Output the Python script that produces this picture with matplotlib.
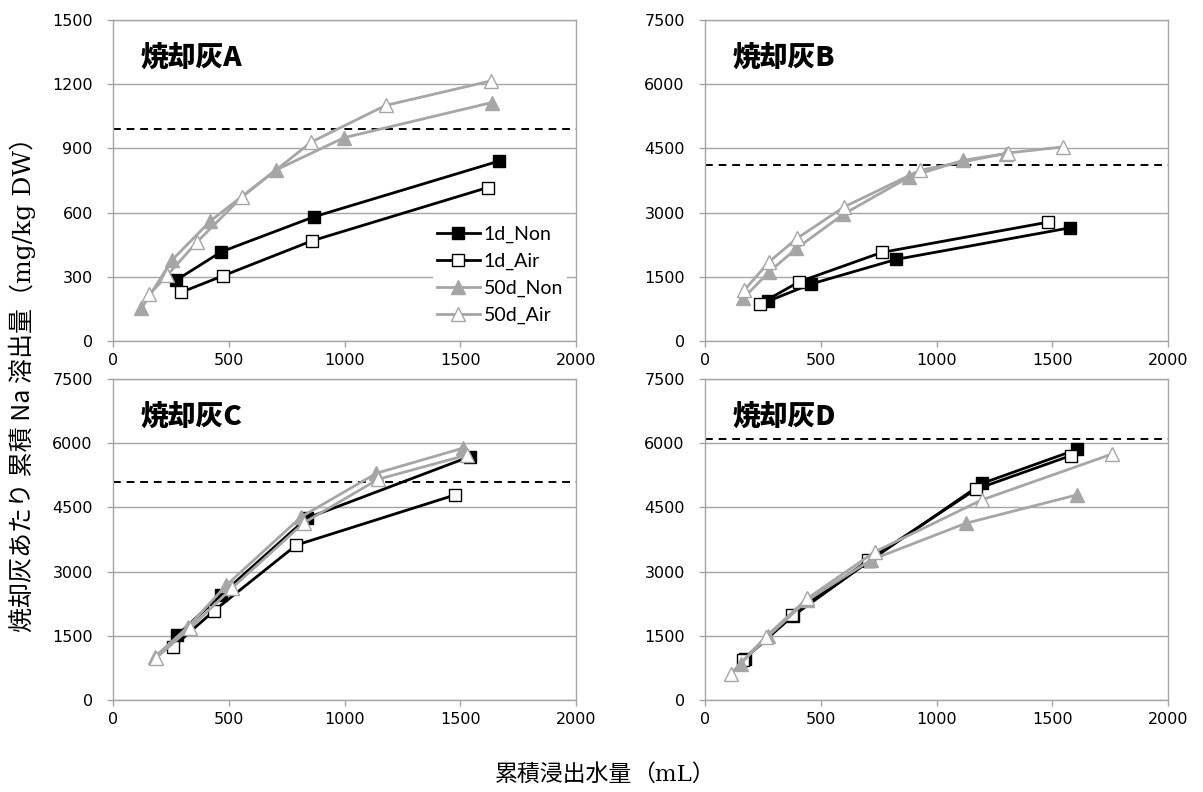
import matplotlib
matplotlib.use('Agg')
import matplotlib.pyplot as plt

plt.rcParams['font.family'] = ['Noto Sans CJK JP', 'DejaVu Sans']

# データ (累積浸出水量 mL, 累積 Na 溶出量 mg/kg DW)
series_names = ['1d_Non', '1d_Air', '50d_Non', '50d_Air']
panel_titles = ['焼却灰A', '焼却灰B', '焼却灰C', '焼却灰D']

a_x = [[274, 468, 867, 1668],
       [293, 476, 859, 1618],
       [123, 255, 420, 702, 998, 1635],
       [157, 235, 363, 557, 857, 1178, 1631]]
a_y = [[285, 417, 580, 841],
       [227, 305, 468, 717],
       [152, 378, 560, 798, 950, 1114],
       [218, 308, 463, 673, 930, 1101, 1215]]

b_x = [[274, 457, 825, 1576],
       [238, 407, 763, 1481],
       [165, 277, 395, 598, 883, 1115, 1302],
       [170, 277, 397, 601, 930, 1310, 1545]]
b_y = [[933, 1330, 1906, 2644],
       [870, 1384, 2069, 2776],
       [996, 1617, 2162, 2963, 3834, 4223, 4379],
       [1190, 1851, 2396, 3133, 3990, 4394, 4534]]

c_x = [[278, 465, 836, 1541],
       [259, 436, 792, 1477],
       [180, 324, 490, 814, 1138, 1510],
       [187, 331, 512, 825, 1145, 1530]]
c_y = [[1514, 2450, 4245, 5686],
       [1240, 2083, 3620, 4790],
       [1006, 1708, 2684, 4282, 5298, 5883],
       [983, 1671, 2607, 4142, 5157, 5726]]

d_x = [[172, 378, 710, 1198, 1609],
       [165, 374, 706, 1170, 1580],
       [154, 273, 442, 716, 1126, 1605],
       [112, 262, 442, 734, 1195, 1756]]
d_y = [[969, 1959, 3245, 5063, 5859],
       [945, 1982, 3269, 4923, 5710],
       [852, 1490, 2333, 3269, 4128, 4790],
       [618, 1474, 2373, 3463, 4673, 5742]]

limit_lines = [990, 4110, 5100, 6100]   # 破線
y_max = [1500, 7500, 7500, 7500]
y_step = [300, 1500, 1500, 1500]

all_x = [a_x, b_x, c_x, d_x]
all_y = [a_y, b_y, c_y, d_y]

GRAY = '#A6A6A6'
styles = [
    dict(color='black', marker='s', mfc='black', mec='black', ms=9),
    dict(color='black', marker='s', mfc='white', mec='black', ms=9, mew=1),
    dict(color=GRAY, marker='^', mfc=GRAY, mec=GRAY, ms=10),
    dict(color=GRAY, marker='^', mfc='white', mec=GRAY, ms=10, mew=1),
]

fig = plt.figure(figsize=(12.03, 7.92), dpi=100)
W, H = 1203, 792
# 各パネルの位置 (ピクセル: left, top)
boxes = [(113, 20), (705, 20), (113, 379), (705, 379)]
pw, ph = 463, 321

for i in range(4):
    left, top = boxes[i]
    ax = fig.add_axes([left / W, 1 - (top + ph) / H, pw / W, ph / H])
    for j in range(4):
        ax.plot(all_x[i][j], all_y[i][j], lw=2, label=series_names[j],
                zorder=3 + j, **styles[j])
    ax.axhline(limit_lines[i], color='black', ls=(0, (4, 3)), lw=1.4, zorder=2)
    ax.set_xlim(0, 2000)
    ax.set_ylim(0, y_max[i])
    ax.set_xticks(range(0, 2001, 500))
    ax.set_yticks(range(0, y_max[i] + 1, y_step[i]))
    ax.yaxis.grid(True, color=GRAY, lw=1)
    ax.set_axisbelow(True)
    for s in ax.spines.values():
        s.set_color(GRAY)
        s.set_linewidth(1)
    ax.tick_params(direction='out', length=4.5, color=GRAY, width=1)
    ax.tick_params(axis='y', pad=10)
    ax.tick_params(axis='x', pad=4)
    for lab in ax.get_xticklabels() + ax.get_yticklabels():
        lab.set_fontfamily('DejaVu Sans')
        lab.set_fontsize(11.5)
    ax.text(0.06, 0.882, panel_titles[i], transform=ax.transAxes,
            fontsize=20, fontweight='black', va='center', ha='left')
    if i == 0:
        ax.legend(loc='upper left', bbox_to_anchor=(0.67, 0.40),
                  frameon=True, fancybox=False, edgecolor='none',
                  framealpha=1, prop={'family': 'Lato', 'size': 14},
                  handlelength=2.2, handletextpad=0.2,
                  labelspacing=0.5, borderpad=0.2)

# 軸ラベル (括弧内は明朝風)
serif = ['DejaVu Serif', 'Noto Sans CJK JP']
r = fig.canvas.get_renderer()

y1 = fig.text(0.019, 1 - 632 / H, '焼却灰あたり 累積 Na 溶出量', rotation=90,
              fontsize=18, ha='center', va='bottom')
bb = y1.get_window_extent(r)
fig.text(0.019, bb.y1 / H, '（mg/kg DW）', rotation=90, family=serif,
         fontsize=18, ha='center', va='bottom')

x1 = fig.text(0, 0.022, '累積浸出水量', fontsize=16.5, ha='left', va='center')
x2 = fig.text(0, 0.022, '（mL）', family=serif, fontsize=16.5, ha='left',
              va='center')
w1 = x1.get_window_extent(r).width
w2 = x2.get_window_extent(r).width
start = 605 - (w1 + w2) / 2
x1.set_x(start / W)
x2.set_x((start + w1) / W)

fig.savefig('out.png', dpi=100)
